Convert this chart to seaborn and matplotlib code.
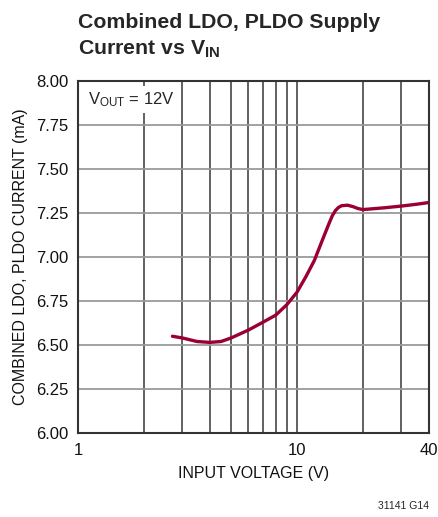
import pandas as pd
import seaborn as sns
import matplotlib.pyplot as plt
from matplotlib.ticker import FixedLocator, NullFormatter

# Data
vin = [2.7, 3.0, 3.5, 4.0, 4.5, 5.0, 6.0, 7.0, 8.0, 9.0, 10.0, 11.0, 12.0,
       13.0, 14.0, 14.5, 15.0, 15.5, 16.0, 17.0, 18.0, 19.0, 20.0, 25.0,
       30.0, 35.0, 40.0]
current = [6.55, 6.54, 6.52, 6.515, 6.52, 6.54, 6.585, 6.63, 6.67, 6.73, 6.80,
           6.89, 6.98, 7.09, 7.19, 7.235, 7.265, 7.283, 7.292, 7.295, 7.287,
           7.276, 7.27, 7.28, 7.29, 7.30, 7.31]
x_ticks = [1, 10, 40]
x_grid = [2, 3, 4, 5, 6, 7, 8, 9, 10, 20, 30]
y_ticks = [6.00, 6.25, 6.50, 6.75, 7.00, 7.25, 7.50, 7.75, 8.00]

df = pd.DataFrame({"VIN": vin, "Current": current})

sns.set_theme(style="white")
plt.rcParams['font.family'] = ['Liberation Sans', 'DejaVu Sans']
plt.rcParams['mathtext.fontset'] = 'custom'
plt.rcParams['mathtext.rm'] = 'Liberation Sans'
plt.rcParams['mathtext.it'] = 'Liberation Sans'
plt.rcParams['mathtext.bf'] = 'Liberation Sans:bold'
plt.rcParams['mathtext.default'] = 'regular'

fig = plt.figure(figsize=(4.38, 5.17), dpi=100)
ax = fig.add_axes([0.178, 0.1625, 0.801, 0.6805])

ax.set_xscale('log')
ax.set_xlim(1, 40)
ax.set_ylim(6, 8)

# grid
for g in x_grid:
    ax.axvline(g, color='#555555', lw=1.3, zorder=1)
for g in y_ticks[1:-1]:
    ax.axhline(g, color='#9a9a9a', lw=1.3, zorder=1)

sns.lineplot(data=df, x="VIN", y="Current", ax=ax, color='#9b0032', lw=2.4,
             zorder=3)

ax.xaxis.set_major_locator(FixedLocator(x_ticks))
ax.xaxis.set_minor_locator(FixedLocator([]))
ax.xaxis.set_minor_formatter(NullFormatter())
ax.set_xticks(x_ticks)
ax.set_xticklabels([str(t) for t in x_ticks])
ax.set_yticks(y_ticks)
ax.set_yticklabels([f"{t:.2f}" for t in y_ticks])
ax.tick_params(axis='both', length=0, labelsize=12, colors='#111111', pad=7)

for s in ax.spines.values():
    s.set_color('#333333')
    s.set_linewidth(1.5)

ax.set_xlabel("INPUT VOLTAGE (V)", fontsize=11.5, color='#111111', labelpad=6)
ax.set_ylabel("COMBINED LDO, PLDO CURRENT (mA)", fontsize=11.5, color='#111111',
              labelpad=6)

ax.text(0.03, 0.975, r'V$_{OUT}$ = 12V', transform=ax.transAxes, fontsize=12,
        va='top', ha='left', zorder=4,
        bbox=dict(facecolor='white', edgecolor='none', pad=3))

fig.text(0.178, 1 - 28 / 517, "Combined LDO, PLDO Supply",
         fontsize=15.3, fontweight='bold', ha='left', va='baseline')
fig.text(0.178, 1 - 55 / 517, r"Current vs V$\mathbf{_{IN}}$",
         fontsize=15.3, fontweight='bold', ha='left', va='baseline')
fig.text(0.979, 0.012, "31141 G14", fontsize=7.5, ha='right', va='bottom')

fig.savefig("out.png", dpi=100)
